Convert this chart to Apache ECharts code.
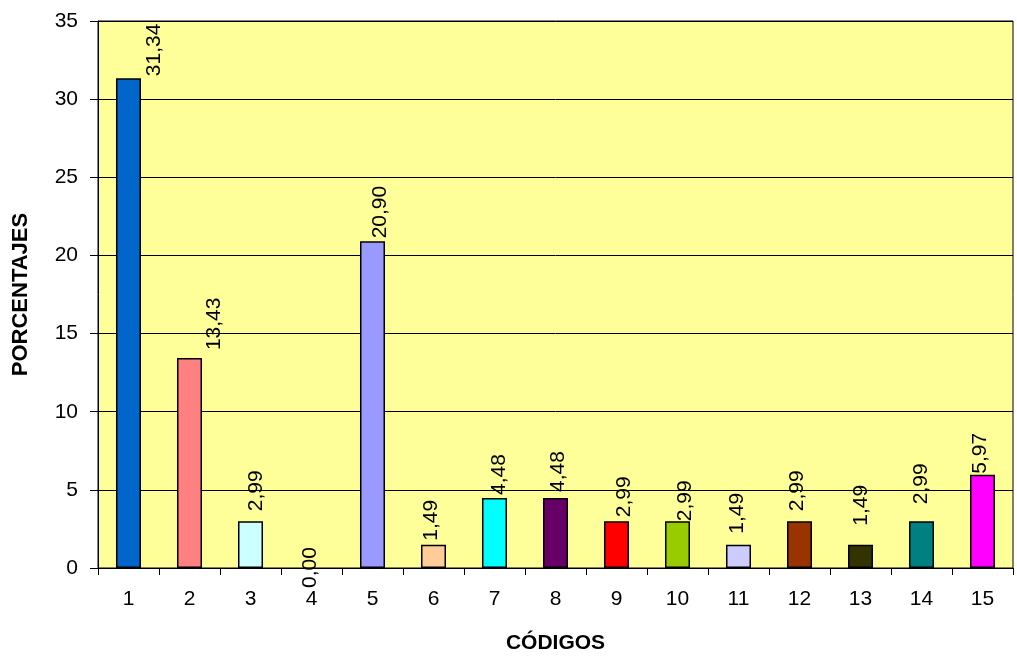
<!DOCTYPE html>
<html>
<head>
<meta charset="utf-8">
<title>Porcentajes por código</title>
<script src="https://cdn.jsdelivr.net/npm/echarts@6/dist/echarts.min.js"></script>
<style>
  html, body { margin: 0; padding: 0; background: #ffffff; }
  #chart { width: 1017px; height: 664px; }
</style>
</head>
<body>
<div id="chart"></div>
<script>
// Codes on the horizontal axis and their percentage values
const codigos = ['1', '2', '3', '4', '5', '6', '7', '8', '9', '10', '11', '12', '13', '14', '15'];
const porcentajes = [31.34, 13.43, 2.99, 0.00, 20.90, 1.49, 4.48, 4.48, 2.99, 2.99, 1.49, 2.99, 1.49, 2.99, 5.97];

// One fill colour per code
const colores = ['#0066CC', '#FF8080', '#CCFFFF', '#FFFF00', '#9999FF', '#FFCC99', '#00FFFF',
                 '#660066', '#FF0000', '#99CC00', '#CCCCFF', '#993300', '#333300', '#008080', '#FF00FF'];

// Small per-label screen nudges [dx right, dy down] for the rotated value labels
const labelNudge = [[26, -2], [25, -8], [6, -10], [-1, 20], [8, -3], [-2, -4], [5, -3], [3, -6],
                    [8, -4], [8, 0], [-1, -11], [-2, -10], [1, -19], [0, -17], [-2, -1]];

const fmt = v => v.toFixed(2).replace('.', ',');
const FONT = 'Liberation Sans, Arial, sans-serif';

const chart = echarts.init(document.getElementById('chart'), null, { renderer: 'canvas' });

// Label offsets live in the label's rotated frame (x runs up the screen, y runs right)
const barData = porcentajes.map((v, i) => ({
  value: v,
  itemStyle: { color: colores[i], borderColor: '#000000', borderWidth: v === 0 ? 0 : 1.5 },
  label: { offset: [-labelNudge[i][1], labelNudge[i][0]] }
}));

chart.setOption({
  backgroundColor: '#ffffff',
  animation: false,
  grid: {
    left: 98, right: 4, top: 21, bottom: 96,
    show: true, backgroundColor: '#FFFF99', borderColor: '#000000', borderWidth: 1
  },
  xAxis: {
    type: 'category',
    data: codigos,
    boundaryGap: true,
    name: 'CÓDIGOS',
    nameLocation: 'middle',
    nameGap: 65,
    nameTextStyle: { fontFamily: FONT, fontSize: 21, fontWeight: 'bold', color: '#000000' },
    axisLine: { lineStyle: { color: '#000000', width: 1 } },
    axisTick: { show: true, alignWithLabel: false, length: 7, lineStyle: { color: '#000000' } },
    axisLabel: { fontFamily: FONT, fontSize: 21, color: '#000000', margin: 21, interval: 0 },
    splitLine: { show: false }
  },
  yAxis: {
    type: 'value',
    min: 0, max: 35, interval: 5,
    name: 'PORCENTAJES',
    nameLocation: 'middle',
    nameGap: 66,
    nameRotate: 90,
    nameTextStyle: { fontFamily: FONT, fontSize: 22, fontWeight: 'bold', color: '#000000' },
    axisLine: { show: true, lineStyle: { color: '#000000', width: 1 } },
    axisTick: { show: true, length: 8, lineStyle: { color: '#000000' } },
    axisLabel: { fontFamily: FONT, fontSize: 21, color: '#000000', margin: 20 },
    splitLine: { show: true, lineStyle: { color: '#000000', width: 1 } }
  },
  series: [{
    type: 'bar',
    data: barData,
    barWidth: '41%',
    label: {
      show: true,
      position: 'top',
      distance: 0,
      rotate: 90,
      align: 'left',
      verticalAlign: 'middle',
      fontFamily: FONT,
      fontSize: 21,
      color: '#000000',
      formatter: p => fmt(p.value)
    }
  }]
});
</script>
</body>
</html>
